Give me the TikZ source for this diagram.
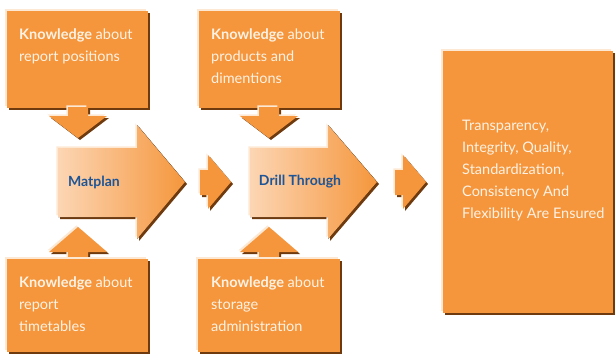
\documentclass[tikz,border=0pt]{standalone}
\usepackage{fontspec}
\setmainfont{Lato}
\definecolor{orfill}{RGB}{245,150,60}
\definecolor{orlight}{RGB}{252,214,180}
\definecolor{bevdark}{RGB}{110,58,14}
\definecolor{bevlight}{RGB}{253,232,212}
\definecolor{txtw}{RGB}{254,242,228}
\definecolor{txtb}{RGB}{30,85,150}
\newcommand\bevelshape[2]{%
  \fill[bevdark,shift={(2,2)}] #2;
  \fill[bevlight,shift={(-1.6,-1.6)}] #2;
  \fill[#1] #2;}
\tikzset{
  boxtext/.style={anchor=north west,inner sep=0pt,text=txtw,align=left,
    font=\fontsize{14.5}{22}\selectfont},
  arrowtext/.style={inner sep=0pt,text=txtb,font=\fontsize{14}{16}\selectfont\bfseries}
}
\begin{document}
\begin{tikzpicture}[x=1pt,y=-1pt]
\useasboundingbox (0,0) rectangle (616,354);
% top boxes with down arrows
\bevelshape{orfill}{(7,11) rectangle (148,108)}
\bevelshape{orfill}{(68,107) -- (88,107) -- (88,116) -- (107,116) -- (78,138) -- (49,116) -- (68,116) -- cycle}
\bevelshape{orfill}{(199,11) rectangle (340,108)}
\bevelshape{orfill}{(259,107) -- (279,107) -- (279,116) -- (298,116) -- (269,138) -- (240,116) -- (259,116) -- cycle}
% bottom boxes with up arrows
\bevelshape{orfill}{(68,260) -- (88,260) -- (88,252) -- (107,252) -- (78,227) -- (49,252) -- (68,252) -- cycle}
\bevelshape{orfill}{(7,259) rectangle (148,352)}
\bevelshape{orfill}{(259,260) -- (279,260) -- (279,252) -- (298,252) -- (269,227) -- (240,252) -- (259,252) -- cycle}
\bevelshape{orfill}{(198,259) rectangle (340,352)}
% big arrows
\bevelshape{left color=orlight,right color=orfill}{(58,148) -- (137,148) -- (137,125) -- (185,182) -- (137,239) -- (137,217) -- (58,217) -- cycle}
\bevelshape{left color=orlight,right color=orfill}{(250,148) -- (328,148) -- (328,125) -- (377,182) -- (328,239) -- (328,217) -- (250,217) -- cycle}
% small arrows
\bevelshape{orfill}{(200,170) -- (208,170) -- (208,155) -- (231,182) -- (208,209) -- (208,195) -- (200,195) -- cycle}
\bevelshape{orfill}{(395,170) -- (403,170) -- (403,155) -- (426,182) -- (403,209) -- (403,195) -- (395,195) -- cycle}
% result box
\bevelshape{orfill}{(443,51) rectangle (613,313)}
% texts
\node[boxtext] (t1) at (19,29) {\textbf{Knowledge} about\\report positions};
\node[boxtext] (t2) at (211,29) {\textbf{Knowledge} about\\products and\\dimentions};
\node[boxtext] (t3) at (19,277) {\textbf{Knowledge} about\\report\\timetables};
\node[boxtext] (t4) at (211,277) {\textbf{Knowledge} about\\storage\\administration};
\node[boxtext] (t5) at (462,120) {Transparency,\\Integrity, Quality,\\Standardization,\\Consistency And\\Flexibility Are Ensured};
\node[arrowtext] (m) at (94,182) {Matplan};
\node[arrowtext] (d) at (300,182) {Drill Through};
\end{tikzpicture}
\end{document}
